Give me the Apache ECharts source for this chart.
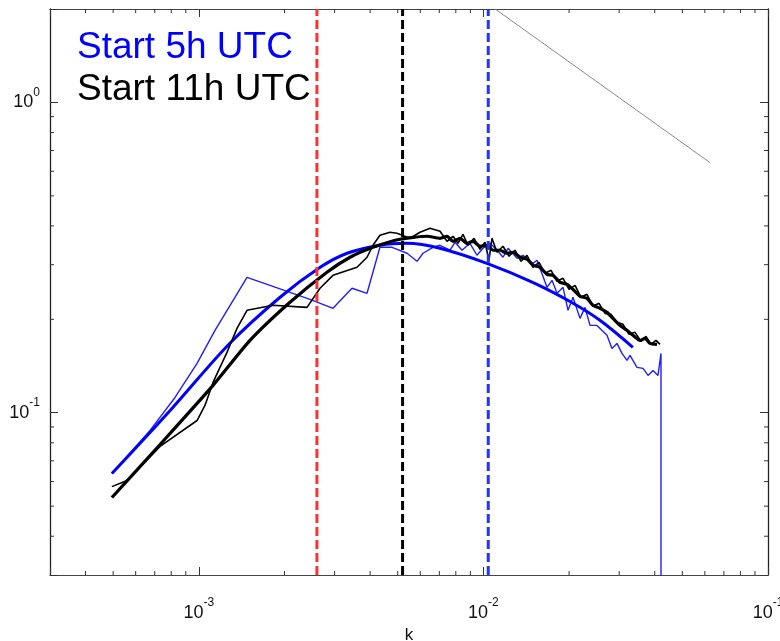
<!DOCTYPE html>
<html>
<head>
<meta charset="utf-8">
<title>Spectra, start 5h and 11h UTC</title>
<script src="https://cdn.jsdelivr.net/npm/echarts@6/dist/echarts.min.js"></script>
<style>
  html, body { margin: 0; padding: 0; background: #fff; }
  #chart { width: 780px; height: 641px; }
</style>
</head>
<body>
<div id="chart"></div>
<script>
// Axis extents (log-log)
const K_MIN = 3e-4, K_MAX = 0.1;
const V_MIN = 0.03, V_MAX = 2;

// Decade exponents that carry labels
const xTickExp = [-3, -2, -1];
const yTickExp = [-1, 0];
// Minor tick multipliers and the decades they sit in
const minorMult = [2, 3, 4, 5, 6, 7, 8, 9];
const xDecades = [1e-4, 1e-3, 1e-2];
const yDecades = [1e-2, 1e-1, 1];

// Start 5h UTC: raw spectrum [k, value]
const blue5hRaw = [
  [4.95e-4, 0.0637], [6.74e-4, 0.0877], [8.25e-4, 0.112], [9.86e-4, 0.1442],
  [1.14e-3, 0.1843], [1.477e-3, 0.2732], [2.459e-3, 0.232], [2.961e-3, 0.217],
  [3.454e-3, 0.2518], [3.90e-3, 0.2426], [4.33e-3, 0.3413], [4.775e-3, 0.3413],
  [5.39e-3, 0.3266], [5.845e-3, 0.3076], [6.135e-3, 0.3266], [6.65e-3, 0.3413],
  [7.04e-3, 0.3465], [7.63e-3, 0.3339], [7.95e-3, 0.3543], [8.41e-3, 0.3339],
  [8.97e-3, 0.3516], [9.49e-3, 0.3217], [9.97e-3, 0.3388], [1.055e-2, 0.3516],
  [1.117e-2, 0.3339], [1.172e-2, 0.317], [1.221e-2, 0.3388], [1.313e-2, 0.3146],
  [1.377e-2, 0.3217], [1.494e-2, 0.303], [1.543e-2, 0.310], [1.673e-2, 0.2536],
  [1.742e-2, 0.2672], [1.815e-2, 0.2425], [1.905e-2, 0.2536], [1.983e-2, 0.2138],
  [2.065e-2, 0.2355], [2.185e-2, 0.2014], [2.275e-2, 0.2186], [2.369e-2, 0.1912],
  [2.506e-2, 0.1912], [2.718e-2, 0.1776], [2.83e-2, 0.1612], [2.947e-2, 0.1673],
  [3.069e-2, 0.1553], [3.196e-2, 0.1475], [3.274e-2, 0.1531], [3.465e-2, 0.14],
  [3.638e-2, 0.139], [3.789e-2, 0.1319], [3.945e-2, 0.1369], [4.107e-2, 0.1319],
  [4.207e-2, 0.1553], [4.207e-2, 0.001]
];

// Start 5h UTC: fitted curve
const blue5hFit = [
  [4.95e-4, 0.0637], [7.93e-4, 0.1017], [1.286e-3, 0.1675], [1.93e-3, 0.2356],
  [2.67e-3, 0.2943], [3.32e-3, 0.3266], [4.33e-3, 0.3467], [5.38e-3, 0.3516],
  [7.03e-3, 0.339], [1.029e-2, 0.303], [1.49e-2, 0.263], [2.065e-2, 0.2254],
  [2.567e-2, 0.1986], [3.35e-2, 0.1625]
];

// Start 11h UTC: raw spectrum
const black11hRaw = [
  [4.95e-4, 0.0578], [5.595e-4, 0.0605], [7.31e-4, 0.0779], [9.86e-4, 0.0944],
  [1.051e-3, 0.1056], [1.122e-3, 0.1252], [1.256e-3, 0.1565], [1.362e-3, 0.187],
  [1.477e-3, 0.2138], [1.823e-3, 0.2219], [2.400e-3, 0.2186], [2.666e-3, 0.2518],
  [2.961e-3, 0.2772], [3.596e-3, 0.2942], [3.90e-3, 0.3170], [4.093e-3, 0.3465],
  [4.33e-3, 0.3731], [4.696e-3, 0.3815], [4.969e-3, 0.3788], [5.523e-3, 0.3649],
  [5.988e-3, 0.3815], [6.494e-3, 0.3930], [7.04e-3, 0.3843],
  [7.45e-3, 0.3568], [7.82e-3, 0.3704], [8.142e-3, 0.3516], [8.477e-3, 0.3759],
  [8.828e-3, 0.3465], [9.268e-3, 0.3649], [9.727e-3, 0.3364], [1.013e-2, 0.3542],
  [1.046e-2, 0.3100], [1.072e-2, 0.3649], [1.116e-2, 0.3290], [1.172e-2, 0.3440],
  [1.230e-2, 0.3194], [1.291e-2, 0.3339], [1.356e-2, 0.3077], [1.423e-2, 0.3217],
  [1.494e-2, 0.2942], [1.568e-2, 0.3054], [1.646e-2, 0.2814], [1.729e-2, 0.2877],
  [1.814e-2, 0.2652], [1.905e-2, 0.2711], [1.999e-2, 0.2498], [2.099e-2, 0.2574],
  [2.203e-2, 0.2355], [2.312e-2, 0.2408], [2.427e-2, 0.2203], [2.548e-2, 0.2252],
  [2.675e-2, 0.2090], [2.807e-2, 0.2075], [2.947e-2, 0.1956], [3.094e-2, 0.1927],
  [3.248e-2, 0.1789], [3.410e-2, 0.1816], [3.580e-2, 0.1698], [3.727e-2, 0.1762],
  [3.880e-2, 0.1661], [4.041e-2, 0.1711], [4.173e-2, 0.1661]
];

// Start 11h UTC: fitted / averaged curve
const black11hFit = [
  [4.95e-4, 0.0533], [7.31e-4, 0.079], [1.122e-3, 0.1225], [1.513e-3, 0.171],
  [2.091e-3, 0.2269], [2.82e-3, 0.2836], [3.40e-3, 0.317], [4.093e-3, 0.3413],
  [5.093e-3, 0.3622], [6.335e-3, 0.3704],
  [7.04e-3, 0.3649], [7.45e-3, 0.3704], [7.82e-3, 0.3568], [8.275e-3, 0.3649],
  [8.757e-3, 0.3516], [9.193e-3, 0.3568], [9.727e-3, 0.3440], [1.029e-2, 0.3465],
  [1.081e-2, 0.3339], [1.144e-2, 0.3339], [1.210e-2, 0.3265], [1.271e-2, 0.3290],
  [1.345e-2, 0.3170], [1.423e-2, 0.3123], [1.494e-2, 0.2987], [1.581e-2, 0.2942],
  [1.673e-2, 0.2793], [1.757e-2, 0.2772], [1.859e-2, 0.2632], [1.967e-2, 0.2593],
  [2.064e-2, 0.2498], [2.185e-2, 0.2372], [2.312e-2, 0.2337], [2.427e-2, 0.2219],
  [2.569e-2, 0.2170], [2.718e-2, 0.2106], [2.853e-2, 0.2014], [3.020e-2, 0.1912],
  [3.196e-2, 0.1843], [3.355e-2, 0.1776], [3.551e-2, 0.1711], [3.697e-2, 0.1737],
  [3.848e-2, 0.1673], [4.074e-2, 0.1661]
];

// k^(-2/3) reference slope
const refSlope = [[1.10e-2, 2.0], [6.25e-2, 0.64]];

// Vertical dashed markers: wavenumber and colour
const cutoffK = [2.6e-3, 5.2e-3, 1.04e-2];
const cutoffColor = ['#ff3030', '#000000', '#2233ff'];

const FONT = '"Liberation Sans", Arial, Helvetica, sans-serif';

function buildMinor(decades, lo, hi) {
  const out = [];
  decades.forEach(function (d) {
    minorMult.forEach(function (m) {
      const v = d * m;
      if (v > lo * 1.0001 && v < hi * 0.9999) out.push(v);
    });
  });
  return out;
}
const xMinor = buildMinor(xDecades, K_MIN, K_MAX);
const yMinor = buildMinor(yDecades, V_MIN, V_MAX);

function powerLabel(exps) {
  return function (v) {
    const lg = Math.log10(v);
    const e = Math.round(lg);
    if (Math.abs(lg - e) > 1e-6 || exps.indexOf(e) < 0) return '';
    return '{b|10}{s|' + e + '}';
  };
}
const labelRich = {
  b: { fontSize: 18, lineHeight: 32, fontFamily: FONT, color: '#111' },
  s: { fontSize: 12, lineHeight: 12, verticalAlign: 'top', fontFamily: FONT, color: '#111' }
};

const frameLine = { show: true, onZero: false, lineStyle: { color: '#222', width: 1.3 } };
const hFrameLine = { show: true, onZero: false, lineStyle: { color: '#444', width: 1.2 } };
const majorTick = { show: true, inside: true, length: 8, lineStyle: { color: '#333', width: 1 } };

function lineSeries(name, data, color, width, extra) {
  return Object.assign({
    name: name, type: 'line', data: data, showSymbol: false, symbol: 'none',
    lineStyle: { color: color, width: width }, clip: true, z: 3
  }, extra || {});
}

const series = [
  lineSeries('Start 5h UTC raw', blue5hRaw, '#1f1fff', 1.4),
  lineSeries('Start 5h UTC fit', blue5hFit, '#0000ff', 3, { smooth: 0.35 }),
  lineSeries('Start 11h UTC raw', black11hRaw, '#000000', 1.6),
  lineSeries('Start 11h UTC fit', black11hFit, '#000000', 3.2, { smooth: 0.2 }),
  lineSeries('k^-2/3', refSlope, '#8a8a8a', 1)
];

cutoffK.forEach(function (k, i) {
  series.push(lineSeries('cutoff ' + i, [[k, V_MIN], [k, V_MAX]], cutoffColor[i], 3, {
    lineStyle: { color: cutoffColor[i], width: 3, type: [9, 4] }, z: 4
  }));
});

// Minor ticks on all four sides of the frame
series.push({
  type: 'custom', name: 'x minor ticks', clip: false, z: 5, silent: true,
  data: xMinor.map(function (k) { return [k, V_MIN]; }),
  renderItem: function (params, api) {
    const k = api.value(0);
    const b = api.coord([k, V_MIN]);
    const t = api.coord([k, V_MAX]);
    const st = { stroke: '#333', lineWidth: 1 };
    return { type: 'group', children: [
      { type: 'line', shape: { x1: b[0], y1: b[1], x2: b[0], y2: b[1] - 4 }, style: st },
      { type: 'line', shape: { x1: t[0], y1: t[1], x2: t[0], y2: t[1] + 4 }, style: st }
    ] };
  }
});
series.push({
  type: 'custom', name: 'y minor ticks', clip: false, z: 5, silent: true,
  data: yMinor.map(function (v) { return [K_MIN, v]; }),
  renderItem: function (params, api) {
    const v = api.value(1);
    const l = api.coord([K_MIN, v]);
    const r = api.coord([K_MAX, v]);
    const st = { stroke: '#333', lineWidth: 1 };
    return { type: 'group', children: [
      { type: 'line', shape: { x1: l[0], y1: l[1], x2: l[0] + 4, y2: l[1] }, style: st },
      { type: 'line', shape: { x1: r[0], y1: r[1], x2: r[0] - 4, y2: r[1] }, style: st }
    ] };
  }
});

const option = {
  backgroundColor: '#ffffff',
  animation: false,
  grid: { left: 50, right: 12, top: 9, bottom: 66, containLabel: false, outerBoundsMode: 'none' },
  xAxis: [
    {
      type: 'log', logBase: 10, min: K_MIN, max: K_MAX, position: 'bottom',
      name: 'k', nameLocation: 'middle', nameGap: 46,
      nameTextStyle: { fontSize: 17, fontFamily: FONT, color: '#111' },
      axisLine: hFrameLine, axisTick: majorTick, splitLine: { show: false },
      axisLabel: { show: true, margin: 22, formatter: powerLabel(xTickExp), rich: labelRich,
        showMinLabel: true, showMaxLabel: true, hideOverlap: false }
    },
    {
      type: 'log', logBase: 10, min: K_MIN, max: K_MAX, position: 'top',
      axisLine: hFrameLine, axisTick: majorTick, splitLine: { show: false },
      axisLabel: { show: false }
    }
  ],
  yAxis: [
    {
      type: 'log', logBase: 10, min: V_MIN, max: V_MAX, position: 'left',
      axisLine: frameLine, axisTick: majorTick, splitLine: { show: false },
      axisLabel: { show: true, margin: 10, formatter: powerLabel(yTickExp), rich: labelRich,
        showMinLabel: true, showMaxLabel: true, hideOverlap: false }
    },
    {
      type: 'log', logBase: 10, min: V_MIN, max: V_MAX, position: 'right',
      axisLine: frameLine, axisTick: majorTick, splitLine: { show: false },
      axisLabel: { show: false }
    }
  ],
  graphic: [
    { type: 'text', z: 10, style: { x: 77, y: 48, text: 'Start 5h UTC', fill: '#0000ff',
      font: '37px ' + FONT, verticalAlign: 'middle', align: 'left' } },
    { type: 'text', z: 10, style: { x: 77, y: 90, text: 'Start 11h UTC', fill: '#000000',
      font: '37px ' + FONT, verticalAlign: 'middle', align: 'left' } }
  ],
  series: series
};

const chart = echarts.init(document.getElementById('chart'), null, { renderer: 'canvas' });
chart.setOption(option);
</script>
</body>
</html>
